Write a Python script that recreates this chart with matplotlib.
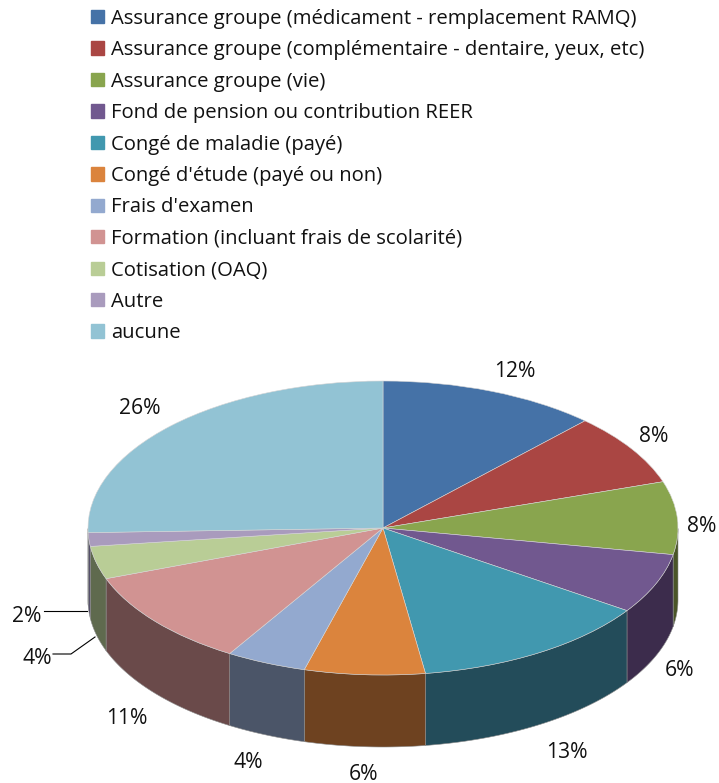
import numpy as np
import matplotlib
matplotlib.use('Agg')
import matplotlib.pyplot as plt
from matplotlib.lines import Line2D
from matplotlib.patches import Rectangle

plt.rcParams['font.family'] = ['Open Sans', 'DejaVu Sans']

# categories and values
categories = ['Assurance groupe (médicament - remplacement RAMQ)',
              'Assurance groupe (complémentaire - dentaire, yeux, etc)',
              'Assurance groupe (vie)',
              'Fond de pension ou contribution REER',
              'Congé de maladie (payé)',
              "Congé d'étude (payé ou non)",
              "Frais d'examen",
              'Formation (incluant frais de scolarité)',
              'Cotisation (OAQ)',
              'Autre',
              'aucune']
values = [12.0, 7.9, 8.0, 6.6, 13.2, 6.6, 4.4, 10.7, 3.6, 1.5, 25.5]
pct_labels = ['12%', '8%', '8%', '6%', '13%', '6%', '4%', '11%', '4%', '2%', '26%']

top_colors = ['#4572A7', '#AA4643', '#89A54E', '#71588F', '#4198AF', '#DB843D',
              '#93A9CF', '#D19392', '#B9CD96', '#A99BBD', '#92C3D4']
side_colors = ['#2A4565', '#672A29', '#4A5527', '#3C2C4C', '#234C5A', '#6E4220',
               '#4B5568', '#6A4A4A', '#5F6A4E', '#55506A', '#4F6A73']

W, H = 719, 783
cx, cy, rx, ry = 383, 528, 295, 147
depth = 72 / ry

fig = plt.figure(figsize=(W / 100, H / 100), dpi=100)
ax = fig.add_axes([0, 0, 1, 1])

# side wall, only the front half of the rim can be seen
edges = 90 - 360 * np.cumsum([0] + values) / sum(values)
for i in range(len(values)):
    a = np.linspace(edges[i], edges[i + 1], 60)
    a = a[np.sin(np.radians(a)) <= 0]
    if len(a) < 2:
        continue
    xs = np.cos(np.radians(a))
    ys = np.sin(np.radians(a))
    ax.fill(np.r_[xs, xs[::-1]], np.r_[ys, ys[::-1] - depth],
            color=side_colors[i], ec='#8c8c8c', lw=0.4)

# top face
ax.pie(values, colors=top_colors, startangle=90, counterclock=False, radius=1,
       wedgeprops={'edgecolor': '#d5d5d5', 'linewidth': 0.4})
ax.set_aspect('auto')
ax.set_xlim(-cx / rx, (W - cx) / rx)
ax.set_ylim(-(H - cy) / ry, cy / ry)
ax.axis('off')

# percent labels, pixel centres from the picture
label_pos = [(515, 371), (654, 437), (702, 527), (680, 671), (567, 753), (363, 774),
             (248, 763), (127, 718), (37, 658), (27, 616), (140, 409)]
for txt, (px, py) in zip(pct_labels, label_pos):
    fig.text(px / W, 1 - py / H, txt, fontsize=15.2, color='#111111', ha='center', va='center')

# leader lines for the two small slices
for lx, ly in [([44, 87], [611, 611]), ([53, 71, 95], [654, 654, 637])]:
    fig.add_artist(Line2D(np.array(lx) / W, 1 - np.array(ly) / H, color='black', lw=0.8))

handles = [Rectangle((0, 0), 1, 1, color=c) for c in top_colors]
fig.legend(handles, categories, loc='upper left', bbox_to_anchor=(75 / W, 1 + 7.5 / H),
           frameon=False, fontsize=14.6, handlelength=0.64, handleheight=0.64,
           handletextpad=0.35, labelspacing=0.565, borderpad=0.3, labelcolor='#111111')

fig.savefig('out.png', dpi=100)
